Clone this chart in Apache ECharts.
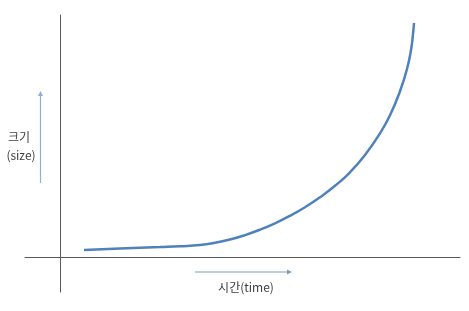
<!DOCTYPE html>
<html>
<head>
<meta charset="utf-8">
<script src="https://cdn.jsdelivr.net/npm/echarts@6/dist/echarts.min.js"></script>
<style>html,body{margin:0;padding:0;background:#fff;}#c{width:469px;height:311px;}</style>
</head>
<body>
<div id="c"></div>
<script>
// time (x) and size (y) values (arbitrary units)
const timeVals = [24, 60, 100, 120, 140, 155, 170, 185, 200, 215, 230, 245, 260, 275, 290, 305, 320, 330, 340, 347, 351, 353, 354];
const sizeVals = [7, 8.5, 10, 10.8, 12, 14.2, 17.5, 21.9, 27.3, 33.7, 41.2, 49.8, 59.7, 71.2, 84.7, 102, 123.7, 141.7, 165.7, 188, 207, 223, 234];
const xLabel = '시간(time)';
const yLabel1 = '크기';
const yLabel2 = '(size)';

const points = timeVals.map((t, i) => [t, sizeVals[i]]);
const chart = echarts.init(document.getElementById('c'), null, {renderer: 'canvas'});
const axisCol = '#595959';
const arrowCol = '#8fb0cf';
const textStyle = {fontFamily: '"Noto Sans CJK KR", sans-serif', fontSize: 12, fill: '#404040'};
chart.setOption({
  animation: false,
  grid: {left: 25, right: 9, top: 15, bottom: 19},
  xAxis: {type: 'value', min: -35, max: 400,
    axisLine: {onZero: true, lineStyle: {color: axisCol, width: 1}},
    axisTick: {show: false}, axisLabel: {show: false}, splitLine: {show: false}},
  yAxis: {type: 'value', min: -35, max: 242,
    axisLine: {show: true, onZero: true, lineStyle: {color: axisCol, width: 1}},
    axisTick: {show: false}, axisLabel: {show: false}, splitLine: {show: false}},
  series: [{
    type: 'line', data: points, smooth: true, showSymbol: false,
    lineStyle: {color: '#4f81bd', width: 2.5}
  }],
  graphic: [
    {type: 'line', shape: {x1: 40.5, y1: 183, x2: 40.5, y2: 93}, style: {stroke: arrowCol, lineWidth: 1.2}},
    {type: 'polygon', shape: {points: [[40.5, 91], [38, 96], [43, 96]]}, style: {fill: arrowCol}},
    {type: 'line', shape: {x1: 195, y1: 272, x2: 289, y2: 272}, style: {stroke: '#7f9cbc', lineWidth: 1.2}},
    {type: 'polygon', shape: {points: [[292, 272], [287, 269.5], [287, 274.5]]}, style: {fill: '#7f9cbc'}},
    {type: 'text', x: 19, y: 137, style: Object.assign({text: yLabel1, textAlign: 'center', textVerticalAlign: 'middle'}, textStyle)},
    {type: 'text', x: 21, y: 155, style: Object.assign({text: yLabel2, textAlign: 'center', textVerticalAlign: 'middle'}, textStyle)},
    {type: 'text', x: 246, y: 287, style: Object.assign({text: xLabel, textAlign: 'center', textVerticalAlign: 'middle'}, textStyle)}
  ]
});
</script>
</body>
</html>
